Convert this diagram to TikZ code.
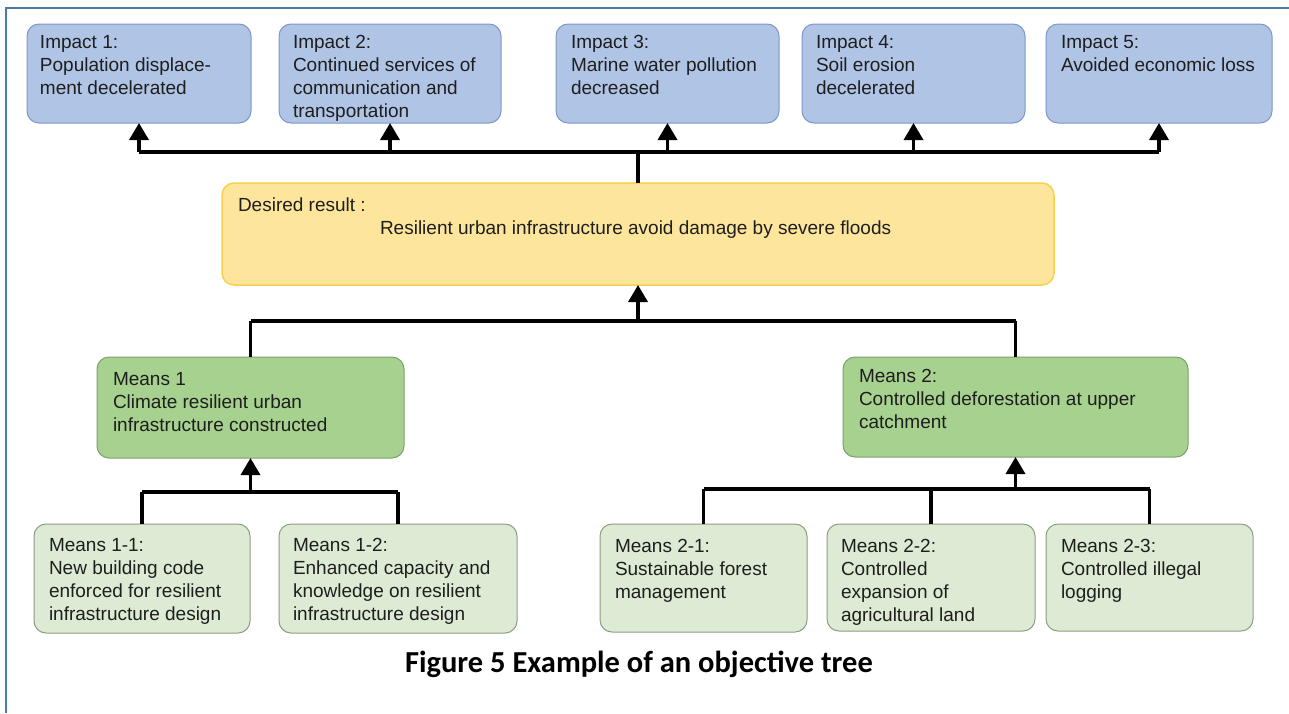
\documentclass[tikz,border=0pt]{standalone}
\usepackage{fontspec}
\setmainfont{Liberation Sans}
\newfontfamily\capfont{Carlito}
\usetikzlibrary{arrows.meta}
\definecolor{impfill}{HTML}{B0C4E6}
\definecolor{impdraw}{HTML}{7F96C6}
\definecolor{desfill}{HTML}{FDE69C}
\definecolor{desdraw}{HTML}{F9D04E}
\definecolor{mfill}{HTML}{A6D18F}
\definecolor{mdraw}{HTML}{7E9F6C}
\definecolor{sfill}{HTML}{DDEBD4}
\definecolor{sdraw}{HTML}{8C9C82}
\definecolor{framec}{HTML}{4F7AA8}
\definecolor{txtc}{HTML}{1E1E1E}
\newcommand\bxt[5]{\parbox[t][#2][t]{#1}{\vspace*{#4}\raggedright\leftskip=#3\relax #5\par}}
\tikzset{
  bx/.style={anchor=north west, inner sep=0pt, outer sep=0pt, rounded corners=12pt,
    line width=1pt, text=txtc, font=\fontsize{19}{23}\selectfont},
  imp/.style={bx, fill=impfill, draw=impdraw},
  des/.style={bx, fill=desfill, draw=desdraw, line width=1.5pt},
  mns/.style={bx, fill=mfill, draw=mdraw},
  sub/.style={bx, fill=sfill, draw=sdraw},
  conn/.style={line width=3.5pt, black},
  arr/.style={conn, -{Triangle[width=19pt,length=17pt]}},
}
\begin{document}
\begin{tikzpicture}[x=1pt,y=-1pt]
\useasboundingbox (0,0) rectangle (1289,713);
\coordinate (fa) at (6,713);
\coordinate (fb) at (6,8);
\coordinate (fc) at (1289,8);
\draw[framec, line width=2pt] (fa) -- (fb) -- (fc);

% Impacts
\node[imp] (i1) at (27,24)  {\bxt{224pt}{99pt}{13pt}{11.5pt}{Impact 1:\\Population displace-\\ment decelerated}};
\node[imp] (i2) at (279,24) {\bxt{222pt}{99pt}{14pt}{11.5pt}{Impact 2:\\Continued services of\\communication and\\transportation}};
\node[imp] (i3) at (556,24) {\bxt{223pt}{99pt}{15pt}{11.5pt}{Impact 3:\\Marine water pollution\\decreased}};
\node[imp] (i4) at (802,24) {\bxt{223pt}{99pt}{14pt}{11.5pt}{Impact 4:\\Soil erosion\\decelerated}};
\node[imp] (i5) at (1046,24) {\bxt{226pt}{99pt}{15pt}{11.5pt}{Impact 5:\\Avoided economic loss}};

% Desired result
\node[des] (d) at (222,183) {\bxt{832pt}{102pt}{16pt}{15pt}{Desired result :\\\hspace*{142pt}Resilient urban infrastructure avoid damage by severe floods}};

% Means
\node[mns] (m1) at (97,357) {\bxt{307pt}{101pt}{16pt}{15pt}{Means 1\\Climate resilient urban\\infrastructure constructed}};
\node[mns] (m2) at (843,357) {\bxt{345pt}{100pt}{16pt}{12.5pt}{Means 2:\\Controlled deforestation at upper\\catchment}};

% Sub means
\node[sub] (m11) at (34,524)  {\bxt{216pt}{109pt}{15pt}{14.5pt}{Means 1-1:\\New building code\\enforced for resilient\\infrastructure design}};
\node[sub] (m12) at (279,524) {\bxt{238pt}{109pt}{14pt}{14.5pt}{Means 1-2:\\Enhanced capacity and\\knowledge on resilient\\infrastructure design}};
\node[sub] (m21) at (600,524) {\bxt{207pt}{108pt}{15pt}{15pt}{Means 2-1:\\Sustainable forest\\management}};
\node[sub] (m22) at (827,524) {\bxt{208pt}{107pt}{14pt}{15pt}{Means 2-2:\\Controlled\\expansion of\\agricultural land}};
\node[sub] (m23) at (1046,524) {\bxt{207pt}{107pt}{15pt}{15pt}{Means 2-3:\\Controlled illegal\\logging}};

% Connectors: top level
\coordinate (bus1) at (637,152);
\draw[conn] (i1.south |- bus1) -- (i5.south |- bus1);
\draw[conn] (d.north) -- (d.north |- bus1);
\foreach \n in {i1,i2,i3,i4,i5} \draw[arr] (\n.south |- bus1) -- (\n.south);

% Means to desired
\coordinate (bus2) at (637,321);
\draw[conn] (m1.north |- bus2) -- (m2.north |- bus2);
\draw[conn] (m1.north |- bus2) -- (m1.north);
\draw[conn] (m2.north |- bus2) -- (m2.north);
\draw[arr] (d.south |- bus2) -- (d.south);

% Sub means 1
\coordinate (bus3) at (250,492);
\draw[conn] (m11.north |- bus3) -- (m12.north |- bus3);
\draw[conn] (m11.north |- bus3) -- (m11.north);
\draw[conn] (m12.north |- bus3) -- (m12.north);
\draw[arr] (m1.south |- bus3) -- (m1.south);

% Sub means 2
\coordinate (bus4) at (1015,489);
\draw[conn] (m21.north |- bus4) -- (m23.north |- bus4);
\draw[conn] (m21.north |- bus4) -- (m21.north);
\draw[conn] (m22.north |- bus4) -- (m22.north);
\draw[conn] (m23.north |- bus4) -- (m23.north);
\draw[arr] (m2.south |- bus4) -- (m2.south);

% Caption
\node[anchor=base, inner sep=0pt, font=\capfont\bfseries\fontsize{30.5}{36}\selectfont, text=black] (cap) at (639,672) {Figure 5 Example of an objective tree};
\end{tikzpicture}
\end{document}
